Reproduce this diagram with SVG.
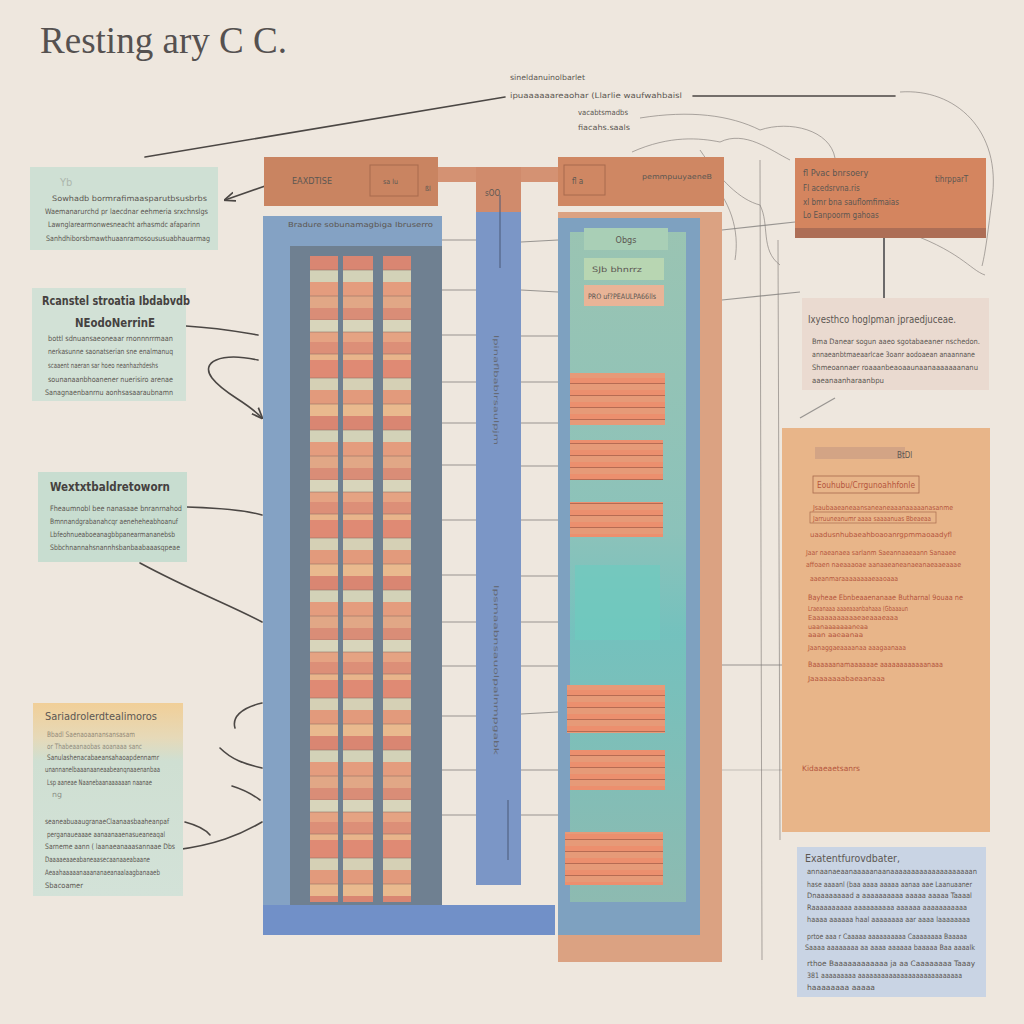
<svg xmlns="http://www.w3.org/2000/svg" width="1024" height="1024" viewBox="0 0 1024 1024">
<defs>
<style>
.t{font-family:"DejaVu Sans Condensed","DejaVu Sans",sans-serif;fill:#5c5752}
.s{font-size:7.5px}
.h{font-size:12px;fill:#45413f;font-weight:bold}
.r{fill:#b5563e}
.c{fill:none;stroke:#4b4744;stroke-width:1.6;stroke-linecap:round}
.f{fill:none;stroke:#8a8580;stroke-width:1;opacity:.7}
.g{stroke:#7c7a78;stroke-width:1.2;opacity:.75}
</style>
<pattern id="stripe" width="30" height="160" patternUnits="userSpaceOnUse">
<rect width="30" height="160" fill="#df9378"/>
<rect y="0" width="30" height="12" fill="#d8d5bb"/>
<rect y="12" width="30" height="10" fill="#e5a383"/>
<rect y="22" width="30" height="12" fill="#dc8f78"/>
<rect y="34" width="30" height="6" fill="#e8b48b"/>
<rect y="40" width="30" height="18" fill="#df8a74"/>
<rect y="58" width="30" height="12" fill="#d5d0b5"/>
<rect y="70" width="30" height="14" fill="#e29a7c"/>
<rect y="84" width="30" height="12" fill="#e9b98e"/>
<rect y="96" width="30" height="14" fill="#d98672"/>
<rect y="110" width="30" height="12" fill="#d3d2b8"/>
<rect y="122" width="30" height="14" fill="#e49c7e"/>
<rect y="136" width="30" height="12" fill="#e1a786"/>
<rect y="148" width="30" height="12" fill="#d98d77"/>
<g stroke="#8d6a5e" stroke-width=".8" opacity=".7">
<line x1="0" y1="12" x2="30" y2="12"/><line x1="0" y1="34" x2="30" y2="34"/><line x1="0" y1="58" x2="30" y2="58"/><line x1="0" y1="84" x2="30" y2="84"/><line x1="0" y1="110" x2="30" y2="110"/><line x1="0" y1="136" x2="30" y2="136"/><line x1="0" y1="160" x2="30" y2="160"/>
</g>
</pattern>
<pattern id="stripe2" width="100" height="12" patternUnits="userSpaceOnUse">
<rect width="100" height="12" fill="#e69a78"/>
<rect y="6" width="100" height="6" fill="#ec8f6e"/>
<line x1="0" y1="11.5" x2="100" y2="11.5" stroke="#a8624c" stroke-width=".8"/>
</pattern>
<linearGradient id="g4" x1="0" y1="0" x2="0" y2="1">
<stop offset="0" stop-color="#f1cf98"/><stop offset=".18" stop-color="#e6d9b8"/><stop offset=".3" stop-color="#cfdfd2"/><stop offset="1" stop-color="#d3e2d8"/>
</linearGradient>
<linearGradient id="gp" x1="0" y1="0" x2="0" y2="1">
<stop offset="0" stop-color="#9fcab0"/><stop offset=".45" stop-color="#8ec8b9"/><stop offset=".6" stop-color="#72c7bd"/><stop offset="1" stop-color="#90bfae"/>
</linearGradient>
<marker id="ah" viewBox="0 0 10 10" refX="9" refY="5" markerWidth="7" markerHeight="7" orient="auto"><path d="M0,1 L10,5 L0,9" fill="none" stroke="#4b4744" stroke-width="1.5"/></marker>
</defs>
<rect width="1024" height="1024" fill="#eee7de"/>
<text x="40" y="53" font-family="Liberation Serif,serif" font-size="38" fill="#555150" textLength="247" lengthAdjust="spacingAndGlyphs">Resting ary  C  C.</text>

<g id="toplabels">
<text class="t s" x="510" y="80" textLength="75" lengthAdjust="spacingAndGlyphs">sineldanuinolbarlet</text>
<text class="t s" x="510" y="98" textLength="172" lengthAdjust="spacingAndGlyphs">ipuaaaaaareaohar (Llarlie  waufwahbaisl</text>
<text class="t s" x="578" y="115" textLength="50" lengthAdjust="spacingAndGlyphs">vacabtsmadbs</text>
<text class="t s" x="578" y="130" textLength="52" lengthAdjust="spacingAndGlyphs">fiacahs.saals</text>
</g>

<g id="connectors">
<path class="c" d="M145,157 L505,97"/>
<path class="c" d="M693,96 L895,96"/>
<path class="f" d="M900,92 C955,88 1002,130 992,200 C988,230 986,250 982,266"/>
<path class="f" d="M632,152 C670,135 700,138 720,142 C745,130 770,150 790,160"/>
<path class="f" d="M640,118 C690,110 730,115 760,130 C790,120 830,130 835,158"/>
<path class="f" d="M700,150 C720,180 740,200 760,205 C770,225 760,250 780,265"/>
<path class="f" d="M708,178 C730,200 740,230 735,260"/>
<path class="f" d="M900,230 C960,250 970,270 985,275"/>
<path class="f" d="M760,160 L762,960"/>
<path class="f" d="M778,240 L780,840" opacity=".4"/>
<path class="c" d="M268,185 L225,200" marker-end="url(#ah)"/>
<path class="c" d="M186,326 C220,328 240,332 258,335"/>
<path class="c" d="M258,360 C220,352 200,362 212,378 C225,395 245,400 262,418" marker-end="url(#ah)"/>
<path class="c" d="M187,507 C220,508 245,510 262,515"/>
<path class="c" d="M140,563 C190,590 230,605 262,622"/>
<path class="c" d="M262,703 C240,708 232,718 235,728"/>
<path class="c" d="M220,748 C232,760 245,764 262,768"/>
<path class="c" d="M232,786 C245,790 252,794 260,800"/>
<path class="c" d="M185,822 C200,826 206,830 210,835"/>
<path class="c" d="M175,850 C215,845 240,835 262,822"/>
<g class="g">
<line x1="442" y1="240" x2="476" y2="240"/><line x1="521" y1="242" x2="558" y2="240"/>
<line x1="442" y1="290" x2="476" y2="290"/><line x1="521" y1="290" x2="558" y2="292"/>
<line x1="442" y1="335" x2="476" y2="335"/><line x1="521" y1="336" x2="558" y2="336"/>
<line x1="442" y1="382" x2="476" y2="382"/><line x1="521" y1="382" x2="558" y2="382"/>
<line x1="442" y1="423" x2="476" y2="423"/><line x1="521" y1="423" x2="558" y2="423"/>
<line x1="442" y1="465" x2="476" y2="465"/><line x1="521" y1="466" x2="558" y2="466"/>
<line x1="442" y1="520" x2="476" y2="520"/><line x1="521" y1="520" x2="558" y2="520"/>
<line x1="442" y1="575" x2="476" y2="575"/><line x1="521" y1="576" x2="558" y2="576"/>
<line x1="442" y1="622" x2="476" y2="622"/><line x1="521" y1="622" x2="558" y2="622"/>
<line x1="442" y1="666" x2="476" y2="666"/><line x1="521" y1="666" x2="558" y2="666"/>
<line x1="442" y1="716" x2="476" y2="716"/><line x1="521" y1="714" x2="558" y2="712"/>
<line x1="442" y1="770" x2="476" y2="770"/><line x1="521" y1="770" x2="558" y2="770"/>
<line x1="442" y1="815" x2="476" y2="815"/><line x1="521" y1="815" x2="558" y2="815"/>
<line x1="722" y1="230" x2="795" y2="222"/>
<line x1="722" y1="300" x2="800" y2="292"/>
<line x1="800" y1="418" x2="835" y2="398"/>
<line x1="722" y1="665" x2="782" y2="665"/>
<line x1="700" y1="768" x2="722" y2="765"/>
<line x1="722" y1="770" x2="782" y2="770" opacity=".5"/>
</g>
<line x1="884" y1="237" x2="884" y2="300" stroke="#6c6a6a" stroke-width="2"/>
</g>

<g id="node-left1">
<rect x="30" y="167" width="188" height="83" fill="#cfe0d4"/>
<text class="t" x="60" y="186" font-size="11" opacity=".3">Yb</text>
<text class="t s" x="52" y="201" textLength="155" lengthAdjust="spacingAndGlyphs">Sowhadb bormrafimaasparutbsusbrbs</text>
<text class="t s" x="45" y="214" textLength="163" lengthAdjust="spacingAndGlyphs">Waemanarurchd pr laecdnar eehmeria srxchnslgs</text>
<text class="t s" x="48" y="227" textLength="152" lengthAdjust="spacingAndGlyphs">Lawnglarearmonwesneacht arhasmdc afaparinn</text>
<text class="t s" x="46" y="241" textLength="164" lengthAdjust="spacingAndGlyphs">Sanhdhiborsbmawthuaanramosoususuabhauarmag</text>
</g>

<g id="node-left2">
<rect x="32" y="288" width="154" height="113" fill="#d2e1d6"/>
<text class="t h" x="42" y="305" textLength="148" lengthAdjust="spacingAndGlyphs">Rcanstel stroatia Ibdabvdb</text>
<text class="t h" x="75" y="327" textLength="80" lengthAdjust="spacingAndGlyphs">NEodoNerrinE</text>
<text class="t s" x="48" y="341" textLength="125" lengthAdjust="spacingAndGlyphs">bottl sdnuansaeoneaar rnonnnrrmaan</text>
<text class="t s" x="48" y="354" textLength="125" lengthAdjust="spacingAndGlyphs">nerkasunne saonatserian sne enalmanuq</text>
<text class="t s" x="48" y="368" textLength="110" lengthAdjust="spacingAndGlyphs">scaaent naeran sar hoeo neanhazhdeshs</text>
<text class="t s" x="48" y="382" textLength="125" lengthAdjust="spacingAndGlyphs">sounanaanbhoanener nuerisiro arenae</text>
<text class="t s" x="45" y="395" textLength="128" lengthAdjust="spacingAndGlyphs">Sanagnaenbanrnu aonhsasaaraubnamn</text>
</g>

<g id="node-left3">
<rect x="38" y="472" width="149" height="90" fill="#c8ddd0"/>
<text class="t h" x="50" y="491" textLength="120" lengthAdjust="spacingAndGlyphs">Wextxtbaldretoworn</text>
<text class="t s" x="50" y="511" textLength="132" lengthAdjust="spacingAndGlyphs">Fheaumnobl bee  nanasaae bnranrnahod</text>
<text class="t s" x="50" y="524" textLength="128" lengthAdjust="spacingAndGlyphs">Bmnnandgrabanahcqr aeneheheabhoanuf</text>
<text class="t s" x="50" y="537" textLength="125" lengthAdjust="spacingAndGlyphs">Lbfeohnueaboeanagbbpanearmananebsb</text>
<text class="t s" x="50" y="550" textLength="130" lengthAdjust="spacingAndGlyphs">Sbbchnannahsnannhsbanbaabaaasqpeae</text>
</g>

<g id="node-left4">
<rect x="33" y="703" width="150" height="193" fill="url(#g4)"/>
<text class="t" x="45" y="720" font-size="10.5" fill="#4e4a46" textLength="112" lengthAdjust="spacingAndGlyphs">Sariadrolerdtealimoros</text>
<text class="t s" x="47" y="737" textLength="88" lengthAdjust="spacingAndGlyphs" opacity=".6">Bbadl Saenaoaanansansasam</text>
<text class="t s" x="47" y="749" textLength="95" lengthAdjust="spacingAndGlyphs" opacity=".6">or Thabeaanaobas aoanaaa sanc</text>
<text class="t s" x="47" y="760" textLength="112" lengthAdjust="spacingAndGlyphs">Sanulashenacabaeansahaoapdennamr</text>
<text class="t s" x="45" y="772" textLength="115" lengthAdjust="spacingAndGlyphs">unannanelbaaanaaneaabeanqnaaenanbaa</text>
<text class="t s" x="47" y="785" textLength="105" lengthAdjust="spacingAndGlyphs">Lsp aaneae Naanebaanaaaaaan naanae</text>
<text class="t s" x="52" y="797" textLength="10" lengthAdjust="spacingAndGlyphs" opacity=".6">ng</text>
<text class="t s" x="45" y="824" textLength="124" lengthAdjust="spacingAndGlyphs">seaneabuaaugranaeClaanaasbaaheanpaf</text>
<text class="t s" x="47" y="837" textLength="118" lengthAdjust="spacingAndGlyphs">perganaueaaae aanaanaaenasueaneaqal</text>
<text class="t s" x="45" y="849" textLength="130" lengthAdjust="spacingAndGlyphs">Sarneme aann ( laanaeanaaasannaae Dbs</text>
<text class="t s" x="45" y="862" textLength="105" lengthAdjust="spacingAndGlyphs">Daaaaeaaeabaneaasecaanaaeabaane</text>
<text class="t s" x="45" y="875" textLength="115" lengthAdjust="spacingAndGlyphs">Aeaahaaaaanaaananaeanaalaagbanaaeb</text>
<text class="t s" x="45" y="888" textLength="38" lengthAdjust="spacingAndGlyphs">Sbacoamer</text>
</g>

<g id="node-center-left">
<rect x="263" y="216" width="179" height="719" fill="#84a2c4"/>
<rect x="263" y="905" width="292" height="30" fill="#7190c8"/>
<rect x="290" y="246" width="152" height="659" fill="#6f8091"/>
<rect x="310" y="256" width="28" height="646" fill="url(#stripe)"/>
<rect x="343" y="256" width="30" height="646" fill="url(#stripe)"/>
<rect x="383" y="256" width="28" height="646" fill="url(#stripe)"/>
<text class="t" x="288" y="227" font-size="7" fill="#5a6a86" textLength="145" lengthAdjust="spacingAndGlyphs">Bradure sobunamagbiga Ibruserro</text>
</g>

<g id="node-top-left">
<rect x="264" y="157" width="174" height="49" fill="#c98461"/>
<rect x="370" y="165" width="48" height="31" fill="none" stroke="#a86a4e" stroke-width="1"/>
<text class="t" x="292" y="184" font-size="8" fill="#6d4a38" textLength="40" lengthAdjust="spacingAndGlyphs">EAXDTISE</text>
<text class="t" x="383" y="184" font-size="7" fill="#6d4a38">sa lu</text>
<text class="t" x="425" y="191" font-size="7" fill="#6d4a38">ßl</text>
</g>

<g id="node-center-bar">
<rect x="438" y="167" width="122" height="15" fill="#d49273"/>
<rect x="476" y="182" width="45" height="703" fill="#7b96c6"/>
<rect x="476" y="167" width="45" height="45" fill="#d08b6c"/>
<text class="t" x="485" y="196" font-size="8" fill="#6d4a38">sOO</text>
<line x1="500" y1="195" x2="500" y2="268" stroke="#4b5877" stroke-width="1"/>
<text class="t" transform="translate(494,335) rotate(90)" font-size="6.5" fill="#3d4c78" opacity=".7" textLength="110" lengthAdjust="spacingAndGlyphs">lpinaflbablrsaulpjm</text>
<text class="t" transform="translate(494,585) rotate(90)" font-size="6.5" fill="#3d4c78" opacity=".7" textLength="170" lengthAdjust="spacingAndGlyphs">lpsmaabnsauolpalnmpgabk</text>
<line x1="508" y1="800" x2="508" y2="860" stroke="#4b5877" stroke-width="1"/>
</g>

<g id="node-top-right">
<rect x="558" y="157" width="166" height="49" fill="#cf8763"/>
<rect x="564" y="165" width="41" height="30" fill="none" stroke="#a86a4e" stroke-width="1"/>
<text class="t" x="572" y="184" font-size="8" fill="#6d4a38">fl  a</text>
<text class="t" x="642" y="179" font-size="7" fill="#7a5543" textLength="70" lengthAdjust="spacingAndGlyphs">pemmpuuyaeneB</text>
</g>

<g id="node-center-right">
<rect x="558" y="212" width="164" height="750" fill="#dba282"/>
<rect x="558" y="218" width="142" height="717" fill="#7ea1c0"/>
<rect x="570" y="232" width="116" height="670" fill="url(#gp)" opacity=".85"/>
<rect x="584" y="228" width="84" height="22" fill="#a9cfb6"/>
<text class="t" x="626" y="243" font-size="9" fill="#66706a" text-anchor="middle">Obgs</text>
<rect x="584" y="258" width="80" height="22" fill="#b8d6b2"/>
<text class="t" x="592" y="272" font-size="7.5" fill="#6c6050" textLength="50" lengthAdjust="spacingAndGlyphs">SJb  bhnrrz</text>
<rect x="584" y="285" width="80" height="21" fill="#e8b497"/>
<text class="t" x="588" y="299" font-size="7.5" fill="#7a4a38" textLength="68" lengthAdjust="spacingAndGlyphs">PRO uf?PEAULPA66lls</text>
<rect x="570" y="373" width="95" height="52" fill="url(#stripe2)"/>
<rect x="570" y="440" width="93" height="40" fill="url(#stripe2)"/>
<rect x="570" y="502" width="93" height="35" fill="url(#stripe2)"/>
<rect x="575" y="565" width="85" height="75" fill="#6ecabf" opacity=".7"/>
<rect x="567" y="685" width="98" height="48" fill="url(#stripe2)"/>
<rect x="570" y="750" width="95" height="40" fill="url(#stripe2)"/>
<rect x="565" y="832" width="98" height="53" fill="url(#stripe2)"/>
</g>

<g id="node-right1">
<rect x="795" y="158" width="191" height="80" fill="#d4855f"/>
<rect x="795" y="228" width="191" height="10" fill="#ad6e56"/>
<text class="t" x="803" y="176" font-size="9" fill="#7a4e3a">fl Pvac bnrsoery</text>
<text class="t" x="803" y="191" font-size="8" fill="#7a4e3a">Fl acedsrvna.ris</text>
<text class="t" x="803" y="205" font-size="8" fill="#7a4e3a">xl bmr bna  sauflomfimaias</text>
<text class="t" x="803" y="218" font-size="8" fill="#7a4e3a">Lo Eanpoorm gahoas</text>
<text class="t" x="935" y="182" font-size="8" fill="#8a6050">tihrpparT</text>
</g>

<g id="node-right2">
<rect x="802" y="298" width="187" height="92" fill="#eadad0"/>
<text class="t" x="808" y="323" font-size="11" fill="#4e4a48" textLength="148" lengthAdjust="spacingAndGlyphs">Ixyesthco hoglpman jpraedjuceae.</text>
<text class="t s" x="812" y="344" textLength="168" lengthAdjust="spacingAndGlyphs">Bma Danear sogun aaeo sgotabaeaner nschedon.</text>
<text class="t s" x="812" y="357" textLength="163" lengthAdjust="spacingAndGlyphs">annaeanbtmaeaarlcae 3oanr aodoaean anaannane</text>
<text class="t s" x="812" y="370" textLength="166" lengthAdjust="spacingAndGlyphs">Shmeoannaer roaaanbeaoaaunaanaaaaaaananu</text>
<text class="t s" x="812" y="383" textLength="72" lengthAdjust="spacingAndGlyphs">aaeanaanharaanbpu</text>
</g>

<g id="node-right3">
<rect x="782" y="428" width="208" height="404" fill="#e8b589"/>
<rect x="815" y="447" width="90" height="12" fill="#c49a82" opacity=".6"/>
<text class="t" x="897" y="458" font-size="8" fill="#a27a68">BtDl</text>
<rect x="813" y="476" width="106" height="17" fill="none" stroke="#a86a4e" stroke-width=".8"/>
<text class="t r" x="817" y="488" font-size="8" textLength="98" lengthAdjust="spacingAndGlyphs">Eouhubu/Crrgunoahhfonle</text>
<text class="t r" x="813" y="510" font-size="7" textLength="140" lengthAdjust="spacingAndGlyphs">Jsaubaaeaneaansaneaneaaanaaaaanasanme</text>
<rect x="810" y="512" width="126" height="11" fill="none" stroke="#a86a4e" stroke-width=".7"/>
<text class="t r" x="813" y="521" font-size="7" textLength="118" lengthAdjust="spacingAndGlyphs">Jarruuneanumr aaaa saaaanuas  Bbeaeaa</text>
<text class="t r" x="810" y="537" font-size="7" textLength="142" lengthAdjust="spacingAndGlyphs">uaadusnhubaeahboaoanrgpmmaoaadyfl</text>
<text class="t r" x="806" y="555" font-size="7" textLength="150" lengthAdjust="spacingAndGlyphs">Jaar naeanaea sarlanm Saeannaaeaann Sanaaee</text>
<text class="t r" x="806" y="567" font-size="7" textLength="155" lengthAdjust="spacingAndGlyphs">affoaen naeaaaoae aanaaeaneanaeanaeaaeaaae</text>
<text class="t r" x="810" y="581" font-size="7" textLength="88" lengthAdjust="spacingAndGlyphs">aaeanmaraaaaaaaaeaaoaaa</text>
<text class="t r" x="808" y="600" font-size="7.5" textLength="155" lengthAdjust="spacingAndGlyphs">Bayheae Ebnbeaaenanaae Butharnal 9ouaa ne</text>
<text class="t r" x="808" y="611" font-size="7" textLength="100" lengthAdjust="spacingAndGlyphs">Lraeanaaa aaaeaaanbahaaa (Gbaaaun</text>
<text class="t r" x="808" y="620" font-size="7" textLength="90" lengthAdjust="spacingAndGlyphs">Eaaaaaaaaaaaeaeaaaeaaa</text>
<text class="t r" x="808" y="629" font-size="6.5" textLength="60" lengthAdjust="spacingAndGlyphs">uaanaaaaaaaneaa</text>
<text class="t r" x="808" y="637" font-size="6.5" textLength="55" lengthAdjust="spacingAndGlyphs">aaan aaeaanaa</text>
<text class="t r" x="808" y="650" font-size="7" textLength="98" lengthAdjust="spacingAndGlyphs">Jaanaggaeaaaanaa aaagaanaaa</text>
<text class="t r" x="808" y="667" font-size="7.5" textLength="135" lengthAdjust="spacingAndGlyphs">Baaaaaanamaaaaaae aaaaaaaaaaaanaaa</text>
<text class="t r" x="808" y="681" font-size="7" textLength="77" lengthAdjust="spacingAndGlyphs">Jaaaaaaaabaeaanaaa</text>
<text class="t r" x="802" y="771" font-size="7.5" textLength="58" lengthAdjust="spacingAndGlyphs">Kidaaeaetsanrs</text>
</g>

<g id="node-right4">
<rect x="797" y="847" width="189" height="150" fill="#c9d4e4"/>
<text class="t" x="805" y="862" font-size="11" fill="#4e4a48" textLength="95" lengthAdjust="spacingAndGlyphs">Exatentfurovdbater,</text>
<text class="t s" x="807" y="874" textLength="170" lengthAdjust="spacingAndGlyphs">annaanaeaanaaaaanaanaaaaaaaaaaaaaaaaaaaan</text>
<text class="t s" x="807" y="887" textLength="165" lengthAdjust="spacingAndGlyphs">hase aaaanl (baa aaaa aaaaa  aanaa aae Laanuaaner</text>
<text class="t s" x="807" y="898" textLength="165" lengthAdjust="spacingAndGlyphs">Dnaaaaaaaad  a aaaaaaaaaa aaaaa  aaaaa Taaaal</text>
<text class="t s" x="807" y="910" textLength="160" lengthAdjust="spacingAndGlyphs">Raaaaaaaaaa aaaaaaaaaa aaaaaa  aaaaaaaaaaa</text>
<text class="t s" x="807" y="922" textLength="163" lengthAdjust="spacingAndGlyphs">haaaa aaaaaa haal aaaaaaaa aar aaaa laaaaaaaa</text>
<text class="t s" x="807" y="939" textLength="160" lengthAdjust="spacingAndGlyphs">prtoe aaa r Caaaaa aaaaaaaaaa Caaaaaaaa Baaaaa</text>
<text class="t s" x="805" y="950" textLength="170" lengthAdjust="spacingAndGlyphs">Saaaa aaaaaaaa aa  aaaa  aaaaaa baaaaa  Baa aaaalk</text>
<text class="t s" x="807" y="966" textLength="168" lengthAdjust="spacingAndGlyphs">rthoe Baaaaaaaaaaaa  ja aa Caaaaaaaa Taaay</text>
<text class="t s" x="807" y="978" textLength="155" lengthAdjust="spacingAndGlyphs">381 aaaaaaaaa aaaaaaaaaaaaaaaaaaaaaaaaaaa</text>
<text class="t s" x="807" y="990" textLength="68" lengthAdjust="spacingAndGlyphs">haaaaaaaa aaaaa</text>
</g>
</svg>
